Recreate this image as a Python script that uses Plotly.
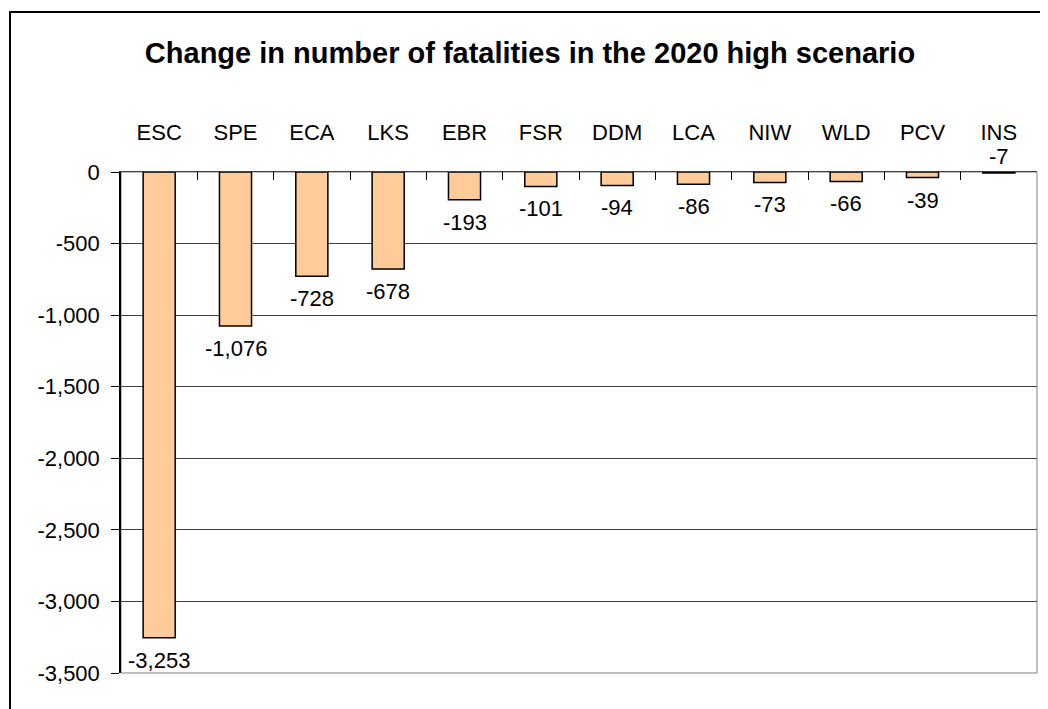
"""
Change in number of fatalities in the 2020 high scenario - bar chart.
"""
import plotly.graph_objects as go

regions = ['ESC', 'SPE', 'ECA', 'LKS', 'EBR', 'FSR', 'DDM', 'LCA', 'NIW', 'WLD', 'PCV', 'INS']
fatality_change = [-3253, -1076, -728, -678, -193, -101, -94, -86, -73, -66, -39, -7]
y_tick_vals = [0, -500, -1000, -1500, -2000, -2500, -3000, -3500]
y_tick_text = ['0', '-500', '-1,000', '-1,500', '-2,000', '-2,500', '-3,000', '-3,500']

FONT = 'Liberation Sans, Arial, sans-serif'
W, H = 1048, 709
OFF = 8  # page body margin of the browser
ML, MR, MT, MB = 121 - OFF, 11 + OFF, 172 - OFF, 36 + OFF
plot_w = W - ML - MR
plot_h = H - MT - MB

fig = go.Figure()
fig.add_trace(go.Bar(
    x=regions,
    y=fatality_change,
    width=0.42,
    marker_color='#FFCC99',
    marker_line_color='black',
    marker_line_width=1.5,
    hoverinfo='x+y',
    showlegend=False
))

# data labels: below the bar end, tiny bars get the label above the axis
for r, v in zip(regions, fatality_change):
    txt = f'{v:,}'
    if v > -20:
        fig.add_annotation(x=r, y=0, text=txt, showarrow=False, yanchor='bottom',
                           yshift=1, font=dict(family=FONT, size=22, color='black'))
    else:
        fig.add_annotation(x=r, y=v, text=txt, showarrow=False, yanchor='top',
                           yshift=-8, font=dict(family=FONT, size=22, color='black'))

# plot area border (grey) and outer chart frame
fig.add_shape(type='rect', xref='paper', yref='paper', x0=0, x1=1, y0=0, y1=1,
              line=dict(color='#808080', width=1), layer='below')
fig.add_shape(type='rect', xref='paper', yref='paper',
              x0=(10 - 121) / plot_w, x1=1.3,
              y0=-0.3, y1=1 + (172 - 12) / plot_h,
              line=dict(color='black', width=2), layer='below')

fig.update_layout(
    title=dict(text='<b>Change in number of fatalities in the 2020 high scenario</b>',
               font=dict(family=FONT, size=29, color='black'),
               x=(530 - OFF) / W, xanchor='center', y=1 - (53 - OFF) / H, yanchor='middle',
               xref='container', yref='container'),
    width=W, height=H,
    margin=dict(l=ML, r=MR, t=MT, b=MB, pad=0),
    plot_bgcolor='white',
    paper_bgcolor='white',
    font=dict(family=FONT, size=22, color='black'),
    xaxis=dict(
        side='top',
        type='category',
        tickson='boundaries',
        ticks='inside',
        ticklen=8,
        tickcolor='black',
        tickwidth=1,
        showline=True,
        linecolor='#404040',
        linewidth=1,
        showgrid=False,
        ticklabelstandoff=22,
        tickfont=dict(family=FONT, size=22, color='black'),
    ),
    yaxis=dict(
        range=[-3500, 0],
        tickvals=y_tick_vals,
        ticktext=y_tick_text,
        ticks='outside',
        ticklen=8,
        tickcolor='black',
        showline=True,
        linecolor='black',
        linewidth=1.5,
        showgrid=True,
        gridcolor='#404040',
        gridwidth=1,
        zeroline=False,
        ticklabelstandoff=7,
        tickfont=dict(family=FONT, size=22, color='black'),
    ),
    bargap=0.58,
)

fig.write_html("out.html")
